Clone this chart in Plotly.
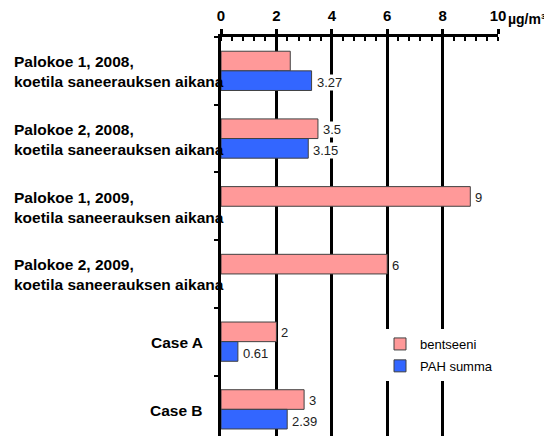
import plotly.graph_objects as go

# ---- data ----
categories = [
    "Palokoe 1, 2008,<br>koetila saneerauksen aikana",
    "Palokoe 2, 2008,<br>koetila saneerauksen aikana",
    "Palokoe 1, 2009,<br>koetila saneerauksen aikana",
    "Palokoe 2, 2009,<br>koetila saneerauksen aikana",
    "Case A",
    "Case B",
]
bentseeni = [2.5, 3.5, 9, 6, 2, 3]
pah_summa = [3.27, 3.15, None, None, 0.61, 2.39]
bentseeni_labels = ["", "3.5", "9", "6", "2", "3"]
pah_labels = ["3.27", "3.15", "", "", "0.61", "2.39"]
x_tickvals = [0, 2, 4, 6, 8, 10]
x_ticktext = ["0", "2", "4", "6", "8", "10"]
unit_text = "µg/m³"

FONT = "Arial, Liberation Sans, sans-serif"
OFF = 8  # page body margin
W, H = 552 - OFF, 436 - OFF
ML, MT, MB = 221 - OFF, 37 - OFF, 0
MR = W - (498 - OFF)
PW = W - ML - MR
PH = H - MT - MB
CAT_PX = 67.7
y_bottom = -0.5 + PH / CAT_PX


def px_x(ref_x):
    return (ref_x - OFF - ML) / PW


def px_y(ref_y):
    return 1 - (ref_y - OFF - MT) / PH


fig = go.Figure()
fig.add_trace(go.Bar(
    y=categories, x=bentseeni, orientation="h", name="bentseeni",
    marker=dict(color="#FF9999", line=dict(color="#404040", width=1)),
    legendgroup="a", hoverinfo="x",
))
fig.add_trace(go.Bar(
    y=categories, x=pah_summa, orientation="h", name="PAH summa",
    marker=dict(color="#3366FF", line=dict(color="#404040", width=1)),
    legendgroup="b", hoverinfo="x",
))

annotations = []
bar_px = (1 - 0.42) / 2 * CAT_PX
for cat, v, t in zip(categories, bentseeni, bentseeni_labels):
    if t:
        annotations.append(dict(x=v, y=cat, xref="x", yref="y", text=t, showarrow=False,
                                xanchor="left", yanchor="middle", xshift=4, yshift=bar_px / 2 - 1,
                                bgcolor="white", borderpad=0,
                                font=dict(family=FONT, size=13, color="#222")))
for cat, v, t in zip(categories, pah_summa, pah_labels):
    if t:
        annotations.append(dict(x=v, y=cat, xref="x", yref="y", text=t, showarrow=False,
                                xanchor="left", yanchor="middle", xshift=4, yshift=-bar_px / 2 - 2,
                                bgcolor="white", borderpad=0,
                                font=dict(family=FONT, size=13, color="#222")))

# category labels
for cat in categories:
    multi = "<br>" in cat
    annotations.append(dict(
        x=px_x(11.7) if multi else px_x(204.5),
        y=cat, xref="paper", yref="y", text=cat, showarrow=False,
        xanchor="left" if multi else "right", align="left", yanchor="middle", yshift=-1,
        font=dict(family=FONT, size=15.5, color="black", weight="bold"),
    ))

# unit after the last tick label
annotations.append(dict(x=1, y=1, xref="paper", yref="paper", text=unit_text, showarrow=False,
                        xanchor="left", yanchor="bottom", xshift=8, yshift=8,
                        font=dict(family=FONT, size=14, color="black", weight="bold")))

fig.update_layout(
    width=W, height=H,
    margin=dict(l=ML, r=MR, t=MT, b=MB, pad=0),
    paper_bgcolor="white", plot_bgcolor="white",
    barmode="group", bargap=0.42, bargroupgap=0,
    font=dict(family=FONT, color="black"),
    xaxis=dict(
        side="top", range=[0, 10], tickvals=x_tickvals, ticktext=x_ticktext,
        showline=True, linecolor="black", linewidth=2.5,
        ticks="outside", ticklen=5, tickwidth=2.5, tickcolor="black",
        minor=dict(dtick=0.4, ticks="inside", ticklen=4, tickwidth=1.5, tickcolor="black", showgrid=False),
        showgrid=True, gridcolor="black", gridwidth=2.5, zeroline=False,
        tickfont=dict(family=FONT, size=15, color="black", weight="bold"),
        ticklabelstandoff=2,
    ),
    yaxis=dict(
        type="category", range=[y_bottom, -0.5], showticklabels=False,
        showline=True, linecolor="black", linewidth=2.5,
        ticks="outside", tickson="boundaries", ticklen=4, tickwidth=2, tickcolor="black",
        showgrid=False, zeroline=False,
    ),
    legend=dict(
        x=px_x(380), y=px_y(329), xanchor="left", yanchor="top",
        bgcolor="white", borderwidth=0, traceorder="grouped", tracegroupgap=2,
        font=dict(family=FONT, size=13, color="black"),
    ),
    annotations=annotations,
    showlegend=True,
)

fig.write_html("out.html")
